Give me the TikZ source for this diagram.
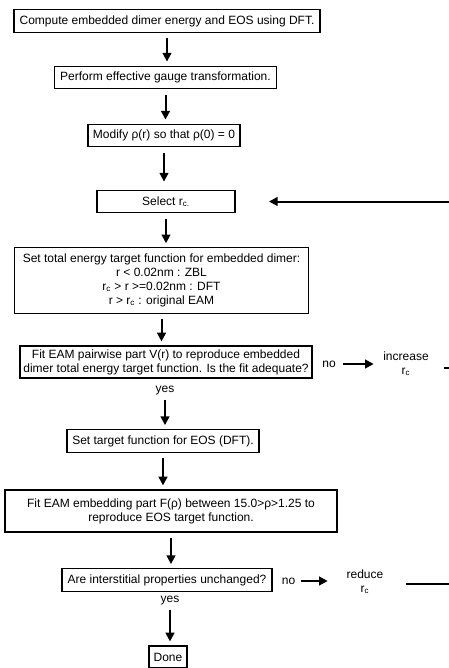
\documentclass[tikz,border=0pt]{standalone}
\usepackage{fontspec}
\setmainfont{Liberation Sans}
\usetikzlibrary{arrows.meta}

\begin{document}
\begin{tikzpicture}[x=0.75pt,y=-0.75pt,
  stepbox/.style={draw,line width=0.9pt,align=center,inner xsep=2.5pt,inner ysep=2pt,minimum height=17pt,font=\fontsize{9}{10.5}\selectfont},
  lbl/.style={align=center,inner sep=1pt,font=\fontsize{9}{10.5}\selectfont},
  flow/.style={line width=1.5pt,-{Triangle[length=6.5pt,width=6.5pt]},shorten <=4pt,shorten >=3pt},
  loopline/.style={line width=1.5pt}]
\useasboundingbox (0,0) rectangle (449,668);
% main column
\node[stepbox,minimum width=229.5pt] (dft) at (167,21) {Compute embedded dimer energy and EOS using DFT.};
\node[stepbox,minimum width=166pt] (gauge) at (165.5,77.5) {Perform effective gauge transformation.};
\node[stepbox,minimum width=114pt] (rho) at (164,135.5) {Modify ρ(r) so that ρ(0) = 0};
\node[stepbox,minimum width=103.5pt] (select) at (166,201.5) {Select r\textsubscript{c.}};
\node[stepbox,minimum width=220pt,minimum height=49pt] (target) at (161.5,280.5) {Set total energy target function for embedded dimer:\\ r {\textless} 0.02nm : ZBL\\ r\textsubscript{c} {\textgreater} r {\textgreater}=0.02nm : DFT\\ r {\textgreater} r\textsubscript{c} : original EAM};
\node[stepbox,minimum width=219pt,minimum height=24pt] (pair) at (166,362) {Fit EAM pairwise part V(r) to reproduce embedded\\ dimer total energy target function. Is the fit adequate?};
\node[lbl] (yesa) at (165,391) {yes};
\node[stepbox,minimum width=144pt] (eos) at (163,441) {Set target function for EOS (DFT).};
\node[stepbox,minimum width=249pt,minimum height=31.5pt] (embed) at (171,511) {Fit EAM embedding part F(ρ) between 15.0{\textgreater}ρ{\textgreater}1.25 to\\ reproduce EOS target function.};
\node[stepbox,minimum width=157.5pt] (inter) at (167,580) {Are interstitial properties unchanged?};
\node[lbl] (yesb) at (170,601) {yes};
\node[stepbox,minimum width=28.5pt,minimum height=16.5pt] (done) at (168,657) {Done};
% side branches
\node[lbl] (noa) at (329,364) {no};
\node[lbl] (inc) at (406,364) {increase\\ r\textsubscript{c}};
\node[lbl] (nob) at (288.5,581) {no};
\node[lbl] (red) at (365,582) {reduce\\ r\textsubscript{c}};
\coordinate (backin) at (449,201.5);
\coordinate (incout) at (449,368);
\coordinate (redout) at (449,584);

\draw[flow] (dft.south) -- (dft.south |- gauge.north);
\draw[flow] (gauge.south) -- (gauge.south |- rho.north);
\draw[flow,shorten >=6pt] (rho.south) -- (rho.south |- select.north);
\draw[flow] (select.south) -- (select.south |- target.north);
\draw[flow] (target.south) -- (target.south |- pair.north);
\draw[flow,shorten <=2pt] (yesa.south) -- (yesa.south |- eos.north);
\draw[flow] (eos.south) -- (eos.south |- embed.north);
\draw[flow] (embed.south) -- (embed.south |- inter.north);
\draw[flow,shorten <=2pt] (yesb.south) -- (yesb.south |- done.north);
\draw[flow,shorten <=0pt,shorten >=25pt] (backin) -- (select.east);
\draw[flow,shorten <=4.5pt,shorten >=6pt] (noa.east) -- (noa.east -| inc.west);
\draw[flow,shorten <=3pt,shorten >=13pt] (nob.east) -- (nob.east -| red.west);
\draw[loopline,shorten <=10pt] (inc.east |- incout) -- (incout);
\draw[loopline,shorten <=16pt] (red.east |- redout) -- (redout);
\end{tikzpicture}
\end{document}
